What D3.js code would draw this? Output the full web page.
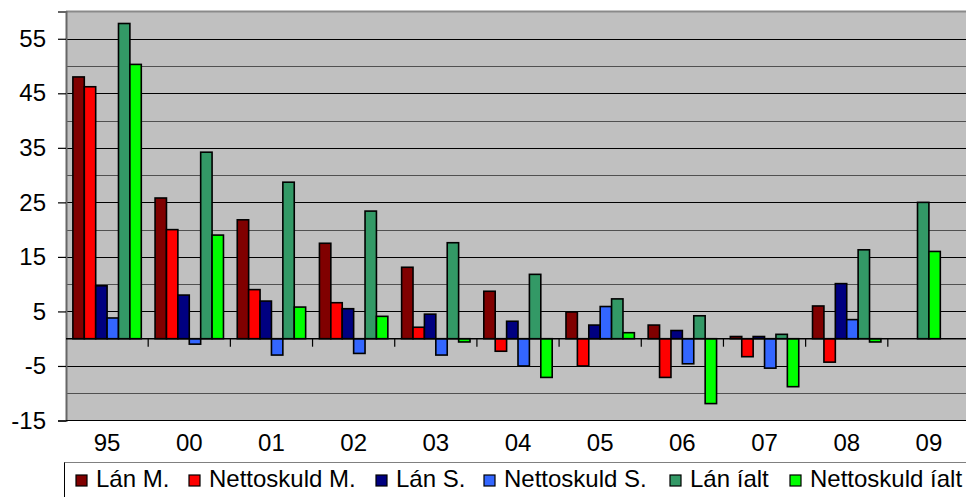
<!DOCTYPE html>
<html><head><meta charset="utf-8">
<script src="https://cdn.jsdelivr.net/npm/d3@7"></script>
<style>html,body{margin:0;padding:0;background:#fff;overflow:hidden}</style>
</head><body><svg id="c" width="966" height="497"></svg>
<script>
const categories = ["95","00","01","02","03","04","05","06","07","08","09"];
const seriesNames = ["Lán M.","Nettoskuld M.","Lán S.","Nettoskuld S.","Lán íalt","Nettoskuld íalt"];
const seriesColors = ["#800000","#ff0000","#000080","#3366ff","#339966","#00ff00"];
const lanM        = [48, 25.8, 21.8, 17.5, 13.1, 8.7, 4.9, 2.5, 0.4, 6, null];
const nettoM      = [46.2, 20, 9, 6.6, 2.1, -2.3, -5, -7.1, -3.3, -4.3, null];
const lanS        = [9.7, 8, 6.9, 5.5, 4.5, 3.2, 2.5, 1.5, 0.4, 10.1, null];
const nettoS      = [3.8, -1, -3, -2.7, -3, -5, 5.9, -4.6, -5.4, 3.5, null];
const lanIalt     = [57.8, 34.2, 28.7, 23.4, 17.6, 11.8, 7.3, 4.2, 0.8, 16.3, 25];
const nettoIalt   = [50.3, 19, 5.8, 4.1, -0.6, -7.1, 1.1, -11.9, -8.8, -0.6, 16];
const yTickLabels = [-15,-5,5,15,25,35,45,55];
const yGrid = [-10,-5,0,5,10,15,20,25,30,35,40,45,50,55];

const seriesValues = [lanM, nettoM, lanS, nettoS, lanIalt, nettoIalt];

const svg = d3.select("#c");
const L = 66, R = 970, T = 11.5, B = 420.5;
const font = "'Liberation Sans', Arial, sans-serif";

const x = d3.scaleBand().domain(categories).range([L, R]).padding(0);
const y = d3.scaleLinear().domain([-15, 60]).range([B, T]);

// plot background
svg.append("rect").attr("x", L).attr("y", T).attr("width", R - L).attr("height", B - T).attr("fill", "#c0c0c0");
svg.append("line").attr("x1", L).attr("x2", R).attr("y1", T).attr("y2", T).attr("stroke", "#8a8a8a").attr("stroke-width", 2);

// gridlines
svg.append("g").selectAll("line").data(yGrid).join("line")
  .attr("x1", L).attr("x2", R)
  .attr("y1", d => Math.round(y(d)) + 0.5).attr("y2", d => Math.round(y(d)) + 0.5)
  .attr("stroke", d => yTickLabels.includes(d) ? "#000" : "#505050")
  .attr("stroke-width", d => d === 0 ? 0 : 1.2);

// y axis
const yAxis = d3.axisLeft(y).tickValues(yTickLabels).tickSize(8).tickPadding(12).tickFormat(d3.format("d"));
const gy = svg.append("g").attr("transform", `translate(${L},0)`).call(yAxis);
gy.select(".domain").attr("stroke", "#666").attr("stroke-width", 2);
gy.selectAll(".tick line").attr("stroke", "#000").attr("stroke-width", 1.2);
gy.selectAll(".tick text").attr("font-family", font).attr("font-size", 24).attr("fill", "#000");
gy.selectAll(".tick text").text(d => d < 0 ? "-" + Math.abs(d) : d);
// bottom border line at -15
svg.append("line").attr("x1", L).attr("x2", R).attr("y1", B).attr("y2", B).attr("stroke", "#000").attr("stroke-width", 1.2);

// bars
const bw = 11.4;
const barData = [];
categories.forEach((c, i) => {
  const present = seriesValues.map((s, k) => ({k, v: s[i]})).filter(d => d.v !== null);
  const total = present.length * bw;
  const start = x(c) + (x.bandwidth() - total) / 2;
  present.forEach((d, j) => barData.push({c, k: d.k, v: d.v, x: start + j * bw}));
});
svg.append("g").selectAll("rect").data(barData).join("rect")
  .attr("x", d => d.x)
  .attr("y", d => y(Math.max(0, d.v)))
  .attr("width", bw)
  .attr("height", d => Math.abs(y(d.v) - y(0)))
  .attr("fill", d => seriesColors[d.k])
  .attr("stroke", "#000").attr("stroke-width", 1.6);

// x axis at zero
const gx = svg.append("g").attr("transform", `translate(0,${y(0)})`);
gx.append("line").attr("x1", L).attr("x2", R).attr("stroke", "#000").attr("stroke-width", 1.5);
gx.selectAll("line.tk").data(categories.slice(1)).join("line").attr("class", "tk")
  .attr("x1", d => x(d)).attr("x2", d => x(d)).attr("y1", 0).attr("y2", 8)
  .attr("stroke", "#000").attr("stroke-width", 1.2);

// category labels
svg.append("g").selectAll("text").data(categories).join("text")
  .attr("x", d => x(d) + x.bandwidth() / 2).attr("y", 451)
  .attr("text-anchor", "middle").attr("font-family", font).attr("font-size", 24).attr("fill", "#000")
  .text(d => d);

// legend
const lg = svg.append("g");
lg.append("rect").attr("x", 64.5).attr("y", 462.5).attr("width", 920).attr("height", 60)
  .attr("fill", "#fff").attr("stroke", "#000").attr("stroke-width", 1);
lg.append("line").attr("x1", 64.5).attr("x2", 966).attr("y1", 462.5).attr("y2", 462.5).attr("stroke", "#808080").attr("stroke-width", 1.2);
const legendX = [76, 189, 376, 484, 670, 790];
const items = lg.selectAll("g.it").data(seriesNames).join("g").attr("class", "it")
  .attr("transform", (d, i) => `translate(${legendX[i]},0)`);
items.append("rect").attr("x", 0).attr("y", 475).attr("width", 11).attr("height", 11)
  .attr("fill", (d, i) => seriesColors[i]).attr("stroke", "#000").attr("stroke-width", 1.2);
items.append("text").attr("x", 20).attr("y", 487)
  .attr("font-family", font).attr("font-size", 24).attr("fill", "#000").text(d => d);
</script>
</body></html>
